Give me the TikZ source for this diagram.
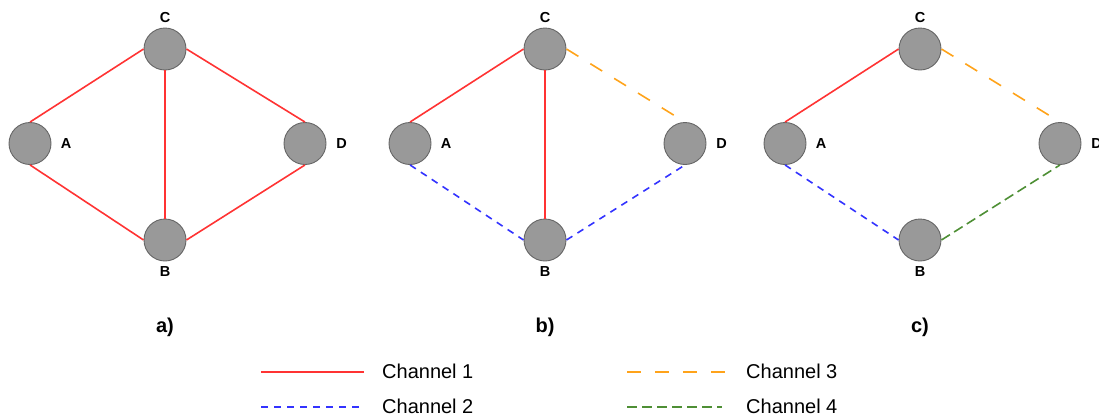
\documentclass[tikz,border=0pt]{standalone}
\usepackage{fontspec}
\setmainfont{Liberation Sans}
\definecolor{nodegray}{HTML}{999999}
\definecolor{nodeedge}{HTML}{666666}
\definecolor{chred}{HTML}{FF3333}
\definecolor{chblue}{HTML}{3333FF}
\definecolor{chorange}{HTML}{FFA31A}
\definecolor{chgreen}{HTML}{4E8F35}
\begin{document}
\begin{tikzpicture}[x=1pt,y=-1pt,
 station/.style={circle, fill=nodegray, draw=nodeedge, line width=0.9pt, minimum size=42pt, inner sep=0pt},
 nlabel/.style={font=\fontsize{14.5}{16}\selectfont\bfseries, inner sep=0pt},
 plabel/.style={font=\fontsize{20}{24}\selectfont\bfseries, inner sep=0pt},
 ltext/.style={font=\fontsize{20}{24}\selectfont, anchor=west, inner sep=0pt},
 ch1/.style={draw=chred, line width=1.6pt},
 ch2/.style={draw=chblue, line width=1.6pt, dash pattern=on 7pt off 6pt},
 ch3/.style={draw=chorange, line width=1.6pt, dash pattern=on 14pt off 14pt},
 ch4/.style={draw=chgreen, line width=1.6pt, dash pattern=on 10pt off 5pt},
]
\useasboundingbox (0,0) rectangle (1099,416);

\foreach \p/\ox in {a/0,b/380,c/755}{
  \node[station] (\p A) at (30+\ox,143.5) {};
  \node[station] (\p C) at (165+\ox,49) {};
  \node[station] (\p D) at (305+\ox,143.5) {};
  \node[station] (\p B) at (165+\ox,240) {};
  \node[nlabel] (\p Alab) at (66+\ox,143.5) {A};
  \node[nlabel] (\p Clab) at (165+\ox,18) {C};
  \node[nlabel] (\p Dlab) at (341.5+\ox,143.5) {D};
  \node[nlabel] (\p Blab) at (165+\ox,272) {B};
  \node[plabel] (\p title) at (165+\ox,327) {\p)};
}

% panel a
\draw[ch1] (aA.north) -- (aC.west);
\draw[ch1] (aC.east) -- (aD.north);
\draw[ch1] (aA.south) -- (aB.west);
\draw[ch1] (aB.east) -- (aD.south);
\draw[ch1] (aC.south) -- (aB.north);

% panel b
\draw[ch1] (bA.north) -- (bC.west);
\draw[ch1] (bC.south) -- (bB.north);
\draw[ch3] (bC.east) -- (bD.north);
\draw[ch2] (bA.south) -- (bB.west);
\draw[ch2] (bB.east) -- (bD.south);

% panel c
\draw[ch1] (cA.north) -- (cC.west);
\draw[ch3] (cC.east) -- (cD.north);
\draw[ch2] (cA.south) -- (cB.west);
\draw[ch4] (cB.east) -- (cD.south);

% legend
\coordinate (l1s) at (261,372);
\coordinate (l1e) at (364,372);
\coordinate (l2s) at (261,407);
\coordinate (l2e) at (364,407);
\coordinate (l3s) at (627,372);
\coordinate (l3e) at (725,372);
\coordinate (l4s) at (627,407);
\coordinate (l4e) at (722,407);
\draw[ch1] (l1s) -- (l1e);
\draw[ch2] (l2s) -- (l2e);
\draw[ch3] (l3s) -- (l3e);
\draw[ch4] (l4s) -- (l4e);
\node[ltext] (t1) at (382,371) {Channel 1};
\node[ltext] (t2) at (382,406.5) {Channel 2};
\node[ltext] (t3) at (746,371) {Channel 3};
\node[ltext] (t4) at (746,406.5) {Channel 4};
\end{tikzpicture}
\end{document}
